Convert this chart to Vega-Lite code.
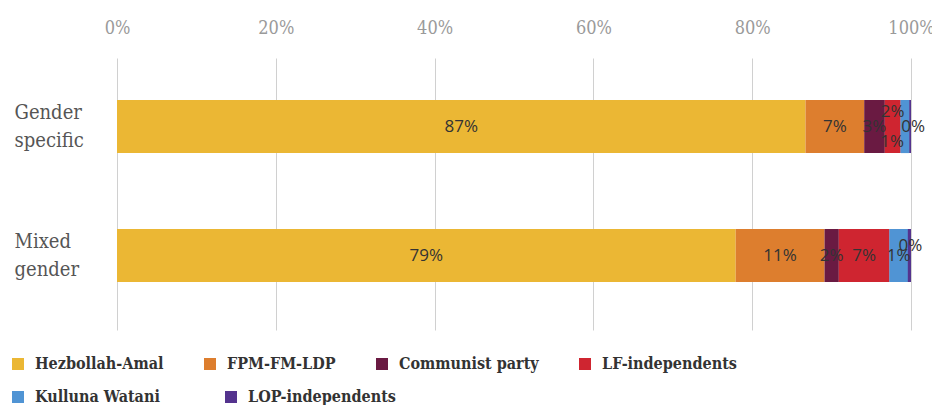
{
  "$schema": "https://vega.github.io/schema/vega-lite/v6.json",
  "width": 794,
  "height": 272,
  "autosize": {"type": "none"},
  "padding": {"left": 117, "top": 58, "right": 21, "bottom": 75},
  "config": {
    "view": {"stroke": null},
    "font": "DejaVu Serif Condensed",
    "legend": {
      "title": null,
      "orient": "none",
      "direction": "horizontal",
      "symbolType": "square",
      "symbolSize": 144,
      "symbolOffset": 0,
      "labelOffset": 9,
      "labelFontSize": 16,
      "labelFontWeight": "bold",
      "labelColor": "#333333",
      "labelLimit": 300,
      "padding": 0
    }
  },
  "data": {
    "values": [
      {"group": "Gender specific", "party": "Hezbollah-Amal", "share": 86.8, "label": "87%"},
      {"group": "Gender specific", "party": "FPM-FM-LDP", "share": 7.4, "label": "7%"},
      {"group": "Gender specific", "party": "Communist party", "share": 2.6, "label": "3%"},
      {"group": "Gender specific", "party": "LF-independents", "share": 2.0, "label": "2%"},
      {"group": "Gender specific", "party": "Kulluna Watani", "share": 1.1, "label": "1%"},
      {"group": "Gender specific", "party": "LOP-independents", "share": 0.2, "label": "0%"},
      {"group": "Mixed gender", "party": "Hezbollah-Amal", "share": 78.0, "label": "79%"},
      {"group": "Mixed gender", "party": "FPM-FM-LDP", "share": 11.2, "label": "11%"},
      {"group": "Mixed gender", "party": "Communist party", "share": 1.8, "label": "2%"},
      {"group": "Mixed gender", "party": "LF-independents", "share": 6.4, "label": "7%"},
      {"group": "Mixed gender", "party": "Kulluna Watani", "share": 2.3, "label": "1%"},
      {"group": "Mixed gender", "party": "LOP-independents", "share": 0.4, "label": "0%"}
    ]
  },
  "transform": [
    {"calculate": "indexof(['Hezbollah-Amal','FPM-FM-LDP','Communist party','LF-independents','Kulluna Watani','LOP-independents'], datum.party)", "as": "rank"},
    {"stack": "share", "groupby": ["group"], "sort": [{"field": "rank", "order": "ascending"}], "offset": "normalize", "as": ["x0", "x1"]},
    {"calculate": "(datum.x0 + datum.x1) / 2", "as": "mid"}
  ],
  "encoding": {
    "y": {
      "field": "group",
      "type": "nominal",
      "sort": ["Gender specific", "Mixed gender"],
      "scale": {"paddingInner": 0.589, "paddingOuter": 0.349, "align": 0.467},
      "axis": {
        "title": null,
        "orient": "left",
        "domain": false,
        "ticks": false,
        "labelAlign": "left",
        "labelBaseline": "middle",
        "labelPadding": 103,
        "labelOffset": -14,
        "labelFontSize": 20,
        "labelLineHeight": 28,
        "labelColor": "#555555",
        "labelExpr": "split(datum.label, ' ')"
      }
    }
  },
  "layer": [
    {
      "mark": {"type": "bar"},
      "encoding": {
        "x": {
          "field": "x0",
          "type": "quantitative",
          "scale": {"domain": [0, 1], "nice": false},
          "axis": {
            "title": null,
            "orient": "top",
            "format": ".0%",
            "values": [0, 0.2, 0.4, 0.6, 0.8, 1],
            "domain": false,
            "ticks": false,
            "grid": true,
            "gridColor": "#d0d0d0",
            "labelPadding": 21,
            "labelFontSize": 18,
            "labelColor": "#9a9a9a",
            "labelFlush": false
          }
        },
        "x2": {"field": "x1"},
        "color": {
          "field": "party",
          "type": "nominal",
          "sort": ["Hezbollah-Amal", "FPM-FM-LDP", "Communist party", "LF-independents", "Kulluna Watani", "LOP-independents"],
          "scale": {
            "domain": ["Hezbollah-Amal", "FPM-FM-LDP", "Communist party", "LF-independents", "Kulluna Watani", "LOP-independents"],
            "range": ["#EBB734", "#DD7E2E", "#6A1A42", "#CF2530", "#5094D4", "#54338E"]
          },
          "legend": {
            "values": ["Hezbollah-Amal", "FPM-FM-LDP", "Communist party", "LF-independents"],
            "legendX": -107,
            "legendY": 298,
            "columns": 4,
            "columnPadding": 38
          }
        }
      }
    },
    {
      "transform": [{"filter": "datum.party == 'Kulluna Watani' || datum.party == 'LOP-independents'"}],
      "mark": {"type": "bar"},
      "encoding": {
        "x": {"field": "x0", "type": "quantitative"},
        "x2": {"field": "x1"},
        "fill": {
          "field": "party",
          "type": "nominal",
          "scale": {
            "domain": ["Kulluna Watani", "LOP-independents"],
            "range": ["#5094D4", "#54338E"]
          },
          "legend": {
            "legendX": -107,
            "legendY": 331,
            "columns": 2,
            "columnPadding": 63
          }
        }
      }
    },
    {
      "transform": [
        {"filter": "!((datum.group == 'Gender specific' && (datum.party == 'LF-independents' || datum.party == 'Kulluna Watani' || datum.party == 'LOP-independents')) || (datum.group == 'Mixed gender' && datum.party == 'LOP-independents'))"}
      ],
      "mark": {"type": "text", "font": "Open Sans", "fontSize": 17, "color": "#333333", "baseline": "middle"},
      "encoding": {
        "x": {"field": "mid", "type": "quantitative"},
        "text": {"field": "label"}
      }
    },
    {
      "transform": [{"filter": "datum.group == 'Gender specific' && datum.party == 'LF-independents'"}],
      "mark": {"type": "text", "font": "Open Sans", "fontSize": 17, "color": "#333333", "baseline": "middle", "dy": -15},
      "encoding": {
        "x": {"field": "mid", "type": "quantitative"},
        "text": {"field": "label"}
      }
    },
    {
      "transform": [{"filter": "datum.group == 'Gender specific' && datum.party == 'Kulluna Watani'"}],
      "mark": {"type": "text", "font": "Open Sans", "fontSize": 17, "color": "#333333", "baseline": "middle", "dx": -13, "dy": 15},
      "encoding": {
        "x": {"field": "mid", "type": "quantitative"},
        "text": {"field": "label"}
      }
    },
    {
      "transform": [{"filter": "datum.group == 'Gender specific' && datum.party == 'LOP-independents'"}],
      "mark": {"type": "text", "font": "Open Sans", "fontSize": 17, "color": "#333333", "baseline": "middle", "dx": 3},
      "encoding": {
        "x": {"field": "mid", "type": "quantitative"},
        "text": {"field": "label"}
      }
    },
    {
      "transform": [{"filter": "datum.group == 'Mixed gender' && datum.party == 'LOP-independents'"}],
      "mark": {"type": "text", "font": "Open Sans", "fontSize": 17, "color": "#333333", "baseline": "middle", "dx": 1, "dy": -10},
      "encoding": {
        "x": {"field": "mid", "type": "quantitative"},
        "text": {"field": "label"}
      }
    }
  ]
}
